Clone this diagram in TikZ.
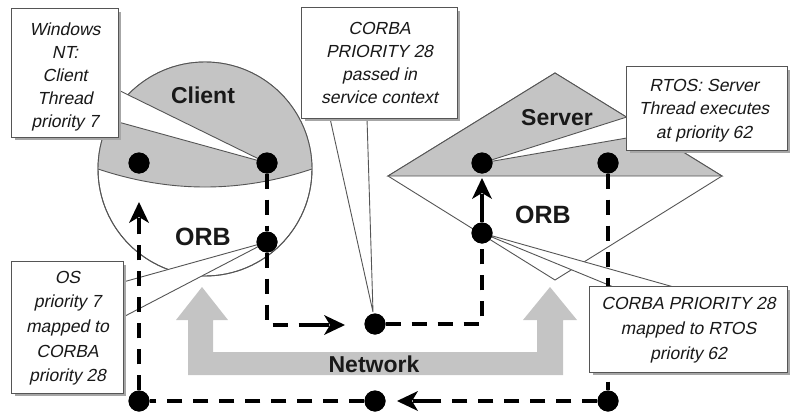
\documentclass[tikz,border=0pt]{standalone}
\usepackage{fontspec}
\setmainfont{Liberation Sans}
\usetikzlibrary{calc,shadows}

\definecolor{capgray}{RGB}{196,196,196}
\definecolor{rim}{RGB}{85,85,85}
\definecolor{ink}{RGB}{25,25,25}

\begin{document}
\begin{tikzpicture}[x=1pt,y=-1pt,
  dotn/.style={circle,fill=black,minimum size=21pt,inner sep=0pt},
  flow/.style={line width=3.5pt,dash pattern=on 15pt off 11pt,draw=black},
  arrowhd/.pic={
    \draw[line width=3.5pt] (-16,0) -- (-31,0);
    \fill[black] (0,0) -- (-21,-10) -- (-15,0) -- (-21,10) -- cycle;
  },
  callout/.style={fill=white,draw=rim,line width=0.9pt,line join=miter},
  noteframe/.style={rectangle,inner sep=0pt},
  notebox/.style={draw=rim,line width=1.1pt,fill=white,
     drop shadow={shadow xshift=3pt,shadow yshift=-3pt,fill=gray!70,opacity=1}},
  noteline/.style={anchor=base,inner sep=0pt,text=ink,
     font=\fontsize{17.5}{21}\selectfont,xslant=0.21,transform shape},
  title/.style={font=\fontsize{23}{27}\selectfont\bfseries,text=ink,inner sep=0pt},
  orbtxt/.style={font=\fontsize{25}{29}\selectfont\bfseries,text=ink,inner sep=0pt},
  outline/.style={draw=rim,line width=0.9pt}
]
\useasboundingbox (0,0) rectangle (790,415);

% gray network band with its two upward arrows
\fill[capgray] (202,287) -- (176,320) -- (188,320) -- (188,375) -- (563,375)
  -- (563,320) -- (577,320) -- (550,287) -- (523,320) -- (537,320)
  -- (537,352) -- (213,352) -- (213,320) -- (228,320) -- cycle;

% client: circle with a shaded upper cap
\filldraw[fill=white,outline] (205,169) circle[radius=107pt];
\begin{scope}
  \clip (205,169) circle[radius=107pt];
  \fill[capgray] (80,169) -- (98,169) .. controls (170,193) and (240,193) .. (312,169)
    -- (330,169) -- (330,50) -- (80,50) -- cycle;
  \draw[outline] (98,169) .. controls (170,193) and (240,193) .. (312,169);
\end{scope}
\draw[outline] (205,169) circle[radius=107pt];

% server: diamond with a shaded upper triangle
\filldraw[fill=white,outline] (388,176) -- (555,280) -- (722,176) -- (555,73) -- cycle;
\filldraw[fill=capgray,outline] (388,176) -- (555,73) -- (722,176) -- cycle;

% thread and ORB points
\node[dotn] (c1) at (139,163) {};
\node[dotn] (c2) at (267,163) {};
\node[dotn] (corb) at (267,242) {};
\node[dotn] (net) at (375,324) {};
\node[dotn] (s1) at (482,163) {};
\node[dotn] (s2) at (608,163) {};
\node[dotn] (sorb) at (482,233) {};
\node[dotn] (br) at (608,401) {};
\node[dotn] (bm) at (375,401) {};
\node[dotn] (bl) at (139,401) {};

% annotation frames (outlined later, above the dashed paths)
\path
  node[noteframe,minimum width=106pt,minimum height=128pt] (wbox) at (65,73) {}
  node[noteframe,minimum width=155pt,minimum height=110pt] (pbox) at (379.5,63) {}
  node[noteframe,minimum width=160pt,minimum height=83pt] (rbox) at (707,108.5) {}
  node[noteframe,minimum width=111pt,minimum height=131pt] (obox) at (67.5,327.5) {}
  node[noteframe,minimum width=197pt,minimum height=85pt] (mbox) at (688.5,329.5) {};

% callout wedges
\filldraw[callout] (wbox.east |- 0,90) -- (c2.center) -- (wbox.east |- 0,122) -- cycle;
\filldraw[callout] (330,0 |- pbox.south) -- (373,312) -- (367,0 |- pbox.south) -- cycle;
\filldraw[callout] (rbox.west |- 0,117) -- (s1.center) -- (rbox.west |- 0,138) -- cycle;
\filldraw[callout] (obox.east |- 0,282) -- (corb.center) -- (obox.east |- 0,317) -- cycle;
\filldraw[callout] (613,0 |- mbox.north) -- (sorb.center) -- (673,0 |- mbox.north) -- cycle;

% request path: client thread -> ORB -> network -> server ORB -> server thread
\coordinate (a1) at (345,325);
\coordinate (a2) at (482,178);
\coordinate (a3) at (397,401);
\coordinate (a4) at (139,202);
\draw[flow] (c2) -- (corb);
\draw[flow] (corb) |- ($(a1)+(-31,0)$);
\pic at (a1) {arrowhd};
\draw[flow] (net) -| (sorb);
\draw[flow] (sorb) -- ($(a2)+(0,31)$);
\pic[rotate=90] at (a2) {arrowhd};
% reply path back to the client
\draw[flow] (s2) -- (br);
\draw[flow] (br) -- ($(a3)+(31,0)$);
\pic[rotate=180] at (a3) {arrowhd};
\draw[flow] (bm) -- (bl);
\draw[flow] (bl) -- ($(a4)+(0,31)$);
\pic[rotate=90] at (a4) {arrowhd};

% points on top of the dashed lines
\foreach \p in {c1,c2,corb,net,s1,s2,sorb,br,bm,bl}
  \fill[black] (\p) circle[radius=10.5pt];

% boxes over the lines they cover
\foreach \b in {wbox,pbox,rbox,obox,mbox}
  \path[notebox] (\b.north west) rectangle (\b.south east);

% annotation texts, one slanted line at a time
\foreach \txt [count=\i] in {Windows,NT:,Client,Thread,priority 7}
  \node[noteline] (wl\i) at ($(wbox.center)+(0,{(\i-3)*23+8})$) {\txt};
\foreach \txt [count=\i] in {CORBA,PRIORITY 28,passed in,service context}
  \node[noteline] (pl\i) at ($(pbox.center)+(0,{(\i-2.5)*23+6})$) {\txt};
\foreach \txt [count=\i] in {RTOS: Server,Thread executes,at priority 62}
  \node[noteline] (rl\i) at ($(rbox.center)+(-3,{(\i-2)*23.5+6})$) {\txt};
\foreach \txt [count=\i] in {OS,priority 7,mapped to,CORBA,priority 28}
  \node[noteline] (ol\i) at ($(obox.center)+(0,{(\i-3)*24.7+5})$) {\txt};
\foreach \txt [count=\i] in {CORBA PRIORITY 28,mapped to RTOS,priority 62}
  \node[noteline] (ml\i) at ($(mbox.center)+(0,{(\i-2)*25+4.5})$) {\txt};

% titles
\node[title] (tclient) at (203,95) {Client};
\node[title] (tserver) at (557,118) {Server};
\node[orbtxt] (torbc) at (203,237) {ORB};
\node[orbtxt] (torbs) at (543,215) {ORB};
\node[title] (tnet) at (374,364) {Network};
\end{tikzpicture}
\end{document}
